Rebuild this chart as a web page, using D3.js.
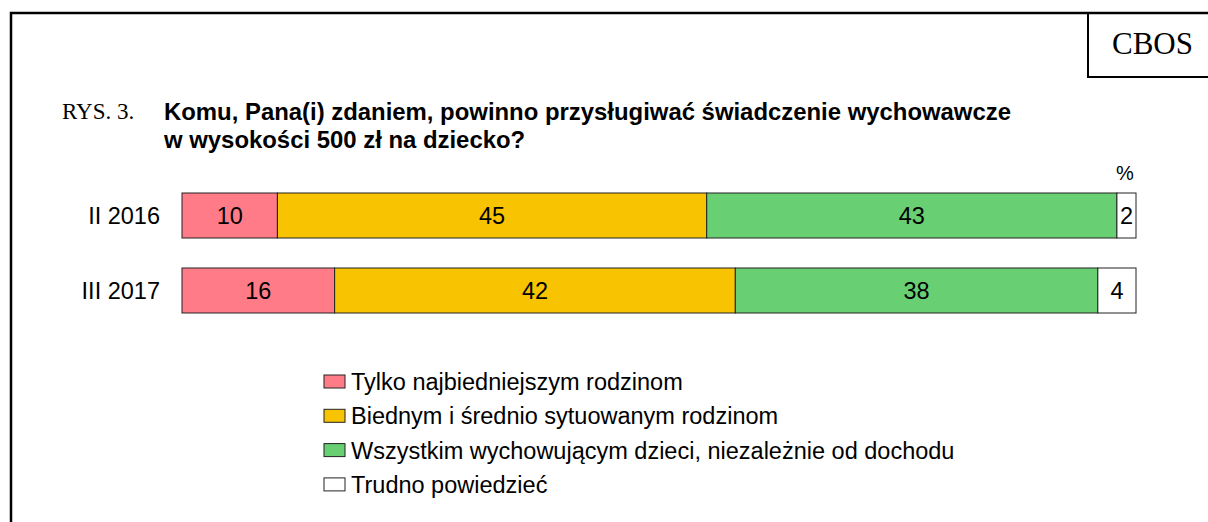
<!DOCTYPE html>
<html>
<head>
<meta charset="utf-8">
<script src="https://cdn.jsdelivr.net/npm/d3@7"></script>
<style>
  body { margin: 0; background: #fff; }
  svg text { font-family: "Liberation Sans", Arial, sans-serif; }
</style>
</head>
<body>
<div id="chart"></div>
<script>
var periods = ["II 2016", "III 2017"];
var categories = ["Tylko najbiedniejszym rodzinom", "Biednym i średnio sytuowanym rodzinom",
                  "Wszystkim wychowującym dzieci, niezależnie od dochodu", "Trudno powiedzieć"];
var values_2016 = [10, 45, 43, 2];
var values_2017 = [16, 42, 38, 4];
var colors = ["#ff7b88", "#f8c300", "#68d072", "#ffffff"];
var all_values = [values_2016, values_2017];

var svg = d3.select("#chart").append("svg")
            .attr("width", 1208)
            .attr("height", 522);

// frame
svg.append("path")
   .attr("d", "M11,522 V13 H1208")
   .attr("fill", "none")
   .attr("stroke", "#000")
   .attr("stroke-width", 2.5);

svg.append("path")
   .attr("d", "M1088,13 V77 H1208")
   .attr("fill", "none")
   .attr("stroke", "#000")
   .attr("stroke-width", 2);

svg.append("text")
   .text("CBOS")
   .attr("x", 1112)
   .attr("y", 54)
   .attr("font-size", 31)
   .style("font-family", "'Liberation Serif', 'Times New Roman', serif");

svg.append("text")
   .text("RYS. 3.")
   .attr("x", 62)
   .attr("y", 119)
   .attr("font-size", 23)
   .style("font-family", "'Liberation Serif', 'Times New Roman', serif");

var title_lines = ["Komu, Pana(i) zdaniem, powinno przysługiwać świadczenie wychowawcze",
                   "w wysokości 500 zł na dziecko?"];
svg.selectAll("text.title").data(title_lines).enter().append("text")
   .attr("class", "title")
   .text(function(d){ return d; })
   .attr("x", 164)
   .attr("y", function(d, i){ return 120 + i * 28; })
   .attr("font-size", 23.9)
   .attr("font-weight", "bold");

var x = d3.scaleLinear().domain([0, 100]).range([182, 1136]);
var y = d3.scaleBand().domain(periods).range([178, 328]).paddingInner(0.4).paddingOuter(0.2);

svg.append("text")
   .text("%")
   .attr("x", 1125)
   .attr("y", 180)
   .attr("text-anchor", "middle")
   .attr("font-size", 20);

periods.forEach(function(p, i) {
    var vals = all_values[i];
    var start = 0;
    var g = svg.append("g");
    vals.forEach(function(v, k) {
        g.append("rect")
         .attr("x", x(start))
         .attr("y", y(p))
         .attr("width", x(start + v) - x(start))
         .attr("height", y.bandwidth())
         .attr("fill", colors[k])
         .attr("stroke", "#222")
         .attr("stroke-width", 1);
        g.append("text")
         .text(v)
         .attr("x", (x(start) + x(start + v)) / 2)
         .attr("y", y(p) + y.bandwidth() / 2 + 8.5)
         .attr("text-anchor", "middle")
         .attr("font-size", 23.5);
        start += v;
    });
    svg.append("text")
       .text(p)
       .attr("x", 160)
       .attr("y", y(p) + y.bandwidth() / 2 + 8.5)
       .attr("text-anchor", "end")
       .attr("font-size", 23.5);
});

var legend = svg.selectAll("g.legend").data(categories).enter().append("g")
                .attr("class", "legend")
                .attr("transform", function(d, i){ return "translate(324," + (381.5 + i * 34.3) + ")"; });
legend.append("rect")
      .attr("x", 0)
      .attr("y", -6.5)
      .attr("width", 21)
      .attr("height", 13)
      .attr("fill", function(d, i){ return colors[i]; })
      .attr("stroke", "#222")
      .attr("stroke-width", 1);
legend.append("text")
      .text(function(d){ return d; })
      .attr("x", 27)
      .attr("y", 8.5)
      .attr("font-size", 23.5);
</script>
</body>
</html>
